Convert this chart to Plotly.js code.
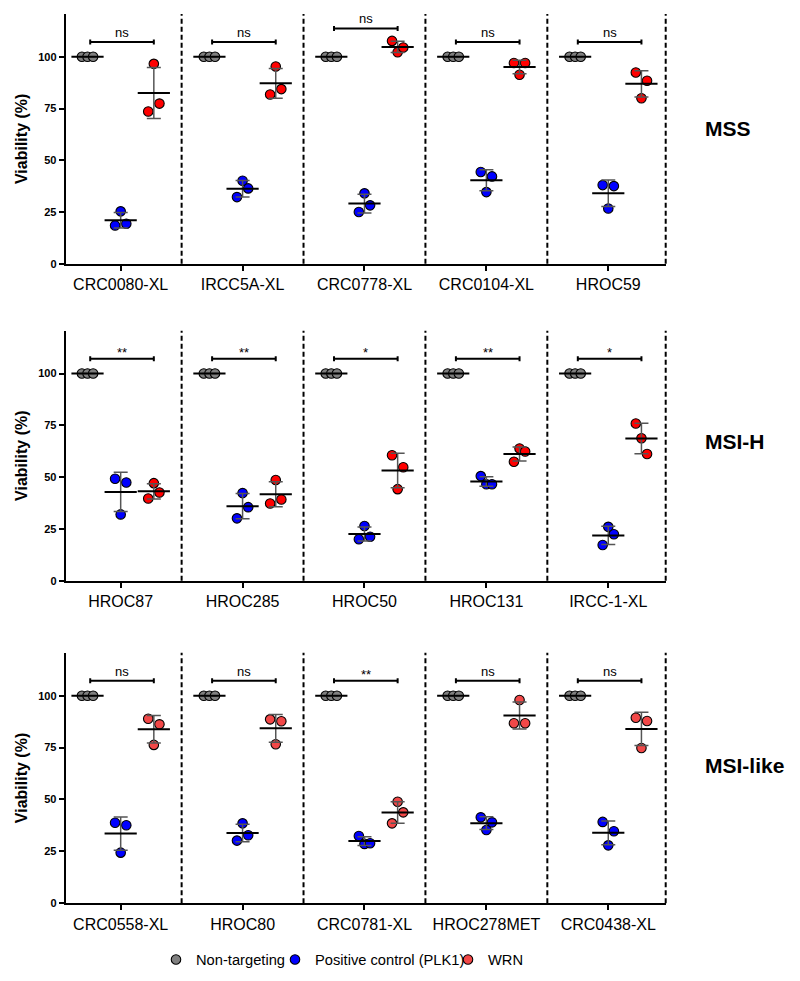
<!DOCTYPE html>
<html><head><meta charset="utf-8">
<script src="https://cdn.plot.ly/plotly-3.0.1.min.js"></script>
<style>html,body{margin:0;padding:0;background:#fff}</style>
</head><body><div id="chart" style="width:800px;height:981px"></div>
<script>
// ---------- DATA ----------
const rowNames = ['MSS', 'MSI-H', 'MSI-like'];
const models = [
  ['CRC0080-XL', 'IRCC5A-XL', 'CRC0778-XL', 'CRC0104-XL', 'HROC59'],
  ['HROC87', 'HROC285', 'HROC50', 'HROC131', 'IRCC-1-XL'],
  ['CRC0558-XL', 'HROC80', 'CRC0781-XL', 'HROC278MET', 'CRC0438-XL']
];
const seriesNames = ['Non-targeting', 'Positive control (PLK1)', 'WRN'];
// replicate values (left, middle, right as plotted)
const nonTargeting = [
  [[100,100,100],[100,100,100],[100,100,100],[100,100,100],[100,100,100]],
  [[100,100,100],[100,100,100],[100,100,100],[100,100,100],[100,100,100]],
  [[100,100,100],[100,100,100],[100,100,100],[100,100,100],[100,100,100]]
];
const plk1 = [
  [[18.5,25.3,19.3],[32.2,40.1,36.4],[25.0,34.0,28.2],[44.3,34.6,42.2],[38.0,26.7,37.5]],
  [[49.2,32.0,47.4],[30.1,42.3,35.5],[20.0,26.4,21.2],[50.5,46.6,46.6],[17.2,26.0,22.4]],
  [[38.8,24.4,37.6],[30.2,38.5,32.8],[32.4,28.6,28.9],[41.4,35.3,39.0],[39.2,27.9,34.7]]
];
const wrn = [
  [[73.6,96.6,77.4],[81.8,95.3,84.4],[107.7,102.2,104.5],[97.0,91.3,97.0],[92.4,80.0,88.4]],
  [[39.7,47.1,42.6],[37.3,48.6,39.2],[60.6,44.2,54.8],[57.4,63.8,62.4],[75.9,68.8,61.2]],
  [[88.9,76.3,86.2],[88.6,76.6,87.7],[38.5,48.9,43.8],[86.7,97.9,86.7],[89.4,74.8,87.8]]
];
const significance = [
  ['ns','ns','ns','ns','ns'],
  ['**','**','*','**','*'],
  ['ns','ns','**','ns','ns']
];
const yTickVals = [0, 25, 50, 75, 100];

// ---------- STYLE / LAYOUT ----------
const FONT = 'Arial, "Liberation Sans", Helvetica, sans-serif';
const W = 800, H = 981;
const rowPx = [[14, 263.7], [330.7, 580.7], [652.7, 903.3]];
const xPx = [65.7, 665.7];
const xRange = [-0.451, 4.471];
const yRange = [0, 120.7];
const groupOffset = [-0.272, 0, 0.272];
const jitter = [-0.046, 0, 0.046];
const grayColor = '#808080';
const blueColor = '#0000ff';
const redColors = ['#ff0000', '#ff0000', '#f24848'];
const legendKeys = ['legend', 'legend2', 'legend3'];
const legendLeftPx = [156, 275, 448];

const mean = a => a.reduce((s, v) => s + v, 0) / a.length;
const sd = a => { const m = mean(a); return Math.sqrt(a.reduce((s, v) => s + (v - m) ** 2, 0) / (a.length - 1)); };

const traces = [];
const layout = {
  width: W, height: H,
  margin: {l: 0, r: 0, t: 0, b: 0},
  paper_bgcolor: '#fff', plot_bgcolor: '#fff',
  font: {family: FONT, color: '#000'},
  showlegend: true,
  shapes: [], annotations: []
};
legendKeys.forEach((k, i) => {
  layout[k] = {
    orientation: 'h', x: legendLeftPx[i] / W, xanchor: 'left', y: 1 - 960 / H, yanchor: 'middle',
    font: {size: 14.7, family: FONT, color: '#000'}, itemclick: false, itemdoubleclick: false,
    bgcolor: 'rgba(0,0,0,0)', borderwidth: 0
  };
});

const groups = [nonTargeting, plk1, wrn];

rowNames.forEach((rn, r) => {
  const sfx = r === 0 ? '' : String(r + 1);
  const xa = 'x' + sfx, ya = 'y' + sfx;
  const colors = [grayColor, blueColor, redColors[r]];

  layout['xaxis' + sfx] = {
    domain: [xPx[0] / W, xPx[1] / W], range: xRange, anchor: ya,
    tickmode: 'array', tickvals: models[r].map((_, i) => i), ticktext: models[r],
    ticks: 'outside', ticklen: 5, tickwidth: 2, tickcolor: '#000',
    showline: true, linewidth: 2, linecolor: '#000',
    showgrid: false, zeroline: false, fixedrange: true,
    tickfont: {size: 16, family: FONT, color: '#000'}
  };
  layout['yaxis' + sfx] = {
    domain: [1 - rowPx[r][1] / H, 1 - rowPx[r][0] / H], range: yRange, anchor: xa,
    tickmode: 'array', tickvals: yTickVals,
    ticks: 'outside', ticklen: 5, tickwidth: 2, tickcolor: '#000',
    showline: true, linewidth: 2, linecolor: '#000',
    showgrid: false, zeroline: false, fixedrange: true,
    tickfont: {size: 11, family: FONT, color: '#000', weight: 'bold'},
    title: {text: 'Viability (%)', font: {size: 16, family: FONT, color: '#000', weight: 'bold'}, standoff: 7}
  };

  // dashed separators
  for (let i = 0; i < models[r].length - 1; i++) {
    layout.shapes.push({type: 'line', xref: xa, yref: ya + ' domain', x0: i + 0.5, x1: i + 0.5, y0: 0, y1: 1,
      line: {color: '#000', width: 2, dash: '5px,3px'}, layer: 'below'});
  }
  layout.shapes.push({type: 'line', xref: xa + ' domain', yref: ya + ' domain', x0: 1, x1: 1, y0: 0, y1: 1,
    line: {color: '#000', width: 2, dash: '5px,3px'}, layer: 'below'});

  // points & means
  groups.forEach((g, gi) => {
    const px = [], py = [], mx = [], my = [], me = [];
    g[r].forEach((vals, c) => {
      vals.forEach((v, k) => { px.push(c + groupOffset[gi] + jitter[k]); py.push(v); });
      mx.push(c + groupOffset[gi]); my.push(mean(vals)); me.push(sd(vals));
    });
    traces.push({
      type: 'scatter', mode: 'markers', x: px, y: py, xaxis: xa, yaxis: ya,
      name: seriesNames[gi], legend: legendKeys[gi], showlegend: r === 2,
      marker: {size: 9.5, color: colors[gi], line: {color: '#000', width: 1.1}},
      hoverinfo: 'skip', cliponaxis: false
    });
    traces.push({
      type: 'scatter', mode: 'markers', x: mx, y: my, xaxis: xa, yaxis: ya, showlegend: false,
      marker: {symbol: 'line-ew', size: 23, color: '#000', line: {color: '#000', width: 2}},
      error_y: {type: 'data', array: me, visible: true, color: '#555', thickness: 1.5, width: 7},
      hoverinfo: 'skip', cliponaxis: false
    });
  });

  // significance brackets
  const bx = [], by = [];
  models[r].forEach((_, c) => {
    const allMax = Math.max(...nonTargeting[r][c], ...plk1[r][c], ...wrn[r][c]);
    const b = Math.max(107.2, allMax + 6);
    const x0 = c - 0.25, x1 = c + 0.272;
    bx.push(x0, x0, null, x0, x1, null, x1, x1, null);
    by.push(b - 1.2, b + 1.2, null, b, b, null, b - 1.2, b + 1.2, null);
    layout.annotations.push({
      xref: xa, yref: ya, x: (x0 + x1) / 2, y: b, text: significance[r][c],
      showarrow: false, xanchor: 'center', yanchor: 'bottom',
      yshift: significance[r][c] === 'ns' ? 0 : -3,
      font: {size: 13, family: FONT, color: '#000'}
    });
  });
  traces.push({
    type: 'scatter', mode: 'lines', x: bx, y: by, xaxis: xa, yaxis: ya, showlegend: false,
    line: {color: '#000', width: 2}, hoverinfo: 'skip', connectgaps: false, cliponaxis: false
  });

  // group label
  const labelY = [128.3, 441.7, 765.8][r];
  layout.annotations.push({
    xref: 'paper', yref: 'paper', x: 702.7 / W, y: 1 - labelY / H, text: rn,
    showarrow: false, xanchor: 'left', yanchor: 'middle',
    font: {size: 21, family: FONT, color: '#000', weight: 'bold'}
  });
});

Plotly.newPlot('chart', traces, layout, {staticPlot: true, displayModeBar: false});
</script>
</body></html>
